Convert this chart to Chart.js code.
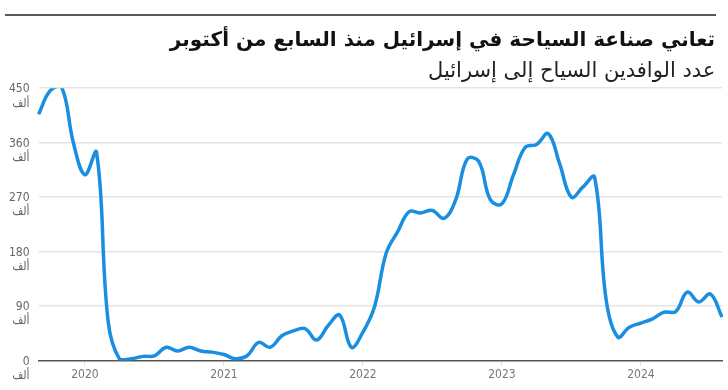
<!DOCTYPE html>
<html>
<head>
<meta charset="utf-8">
<script src="https://cdn.jsdelivr.net/npm/chart.js@4.4.1/dist/chart.umd.min.js"></script>
<style>
  html, body { margin: 0; padding: 0; background: #fff; }
  #wrap { width: 728px; height: 390px; }
</style>
</head>
<body>
<div id="wrap"><canvas id="tourismChart" width="728" height="390"></canvas></div>
<script>
// months from Sep 2019 to Aug 2024
const months = [
  '2019-09', '2019-10', '2019-11', '2019-12',
  '2020-01', '2020-02', '2020-03', '2020-04', '2020-05', '2020-06',
  '2020-07', '2020-08', '2020-09', '2020-10', '2020-11', '2020-12',
  '2021-01', '2021-02', '2021-03', '2021-04', '2021-05', '2021-06',
  '2021-07', '2021-08', '2021-09', '2021-10', '2021-11', '2021-12',
  '2022-01', '2022-02', '2022-03', '2022-04', '2022-05', '2022-06',
  '2022-07', '2022-08', '2022-09', '2022-10', '2022-11', '2022-12',
  '2023-01', '2023-02', '2023-03', '2023-04', '2023-05', '2023-06',
  '2023-07', '2023-08', '2023-09', '2023-10', '2023-11', '2023-12',
  '2024-01', '2024-02', '2024-03', '2024-04', '2024-05', '2024-06',
  '2024-07', '2024-08'
];

// tourist arrivals, thousands
const arrivals = [
  407, 446, 451, 360,
  307, 344, 65, 2, 3, 7, 8, 22, 16, 22, 16, 14,
  10, 3, 8, 30, 22, 41, 49, 53, 34, 58, 75, 22,
  47, 89, 177, 213, 246, 244, 248, 235, 265, 333, 329, 266,
  259, 307, 352, 357, 375, 324, 270, 287, 303, 100, 39, 55,
  62, 69, 80, 81, 113, 97, 110, 72
];

const yTicks = [0, 90, 180, 270, 360, 450];
const unitLabel = 'ألف';

// trailing space keeps the right edge a few px in from the plot edge
const titleText = 'تعاني صناعة السياحة في إسرائيل منذ السابع من أكتوبر ';
const subtitleText = 'عدد الوافدين السياح إلى إسرائيل ';

const topRule = {
  id: 'topRule',
  afterDraw(chart) {
    const c = chart.ctx;
    c.save();
    c.strokeStyle = '#222';
    c.lineWidth = 1.5;
    c.beginPath();
    c.moveTo(5, 15);
    c.lineTo(716, 15);
    c.stroke();
    c.restore();
  }
};

const ctx = document.getElementById('tourismChart').getContext('2d');

new Chart(ctx, {
  type: 'line',
  data: {
    labels: months,
    datasets: [{
      data: arrivals,
      borderColor: '#1a8ee0',
      borderWidth: 3.5,
      tension: 0.4,
      pointRadius: 0,
      fill: false
    }]
  },
  options: {
    responsive: false,
    animation: false,
    layout: { padding: { top: 16, right: 6, left: 0, bottom: 6 } },
    plugins: {
      legend: { display: false },
      tooltip: { enabled: false },
      title: {
        display: true,
        text: titleText,
        align: 'end',
        color: '#111',
        font: { family: 'DejaVu Sans', size: 20, weight: 'bold' },
        padding: { top: 13, bottom: 2 }
      },
      subtitle: {
        display: true,
        text: subtitleText,
        align: 'end',
        color: '#222',
        font: { family: 'DejaVu Sans', size: 21, weight: 'normal' },
        padding: { top: 4, bottom: 4 }
      }
    },
    scales: {
      x: {
        offset: false,
        border: { display: true, color: '#555', width: 1.5 },
        grid: {
          drawOnChartArea: false,
          drawTicks: true,
          tickLength: 5,
          color: (c) => (c.tick && months[c.tick.value] && months[c.tick.value].endsWith('-01')) ? '#ddd' : 'rgba(0,0,0,0)'
        },
        ticks: {
          autoSkip: false,
          maxRotation: 0,
          color: '#777',
          padding: 2,
          font: { family: 'DejaVu Sans Condensed, DejaVu Sans', size: 12 },
          callback: (v) => months[v].endsWith('-01') ? months[v].slice(0, 4) : null
        }
      },
      y: {
        min: 0,
        max: 450,
        border: { display: false },
        afterBuildTicks: (axis) => { axis.ticks = yTicks.map(v => ({ value: v })); },
        grid: {
          color: (c) => c.tick && c.tick.value === 0 ? 'rgba(0,0,0,0)' : '#e4e4e4',
          lineWidth: 1.5,
          drawTicks: false
        },
        ticks: {
          color: '#666',
          padding: 9,
          labelOffset: 8,
          font: { family: 'DejaVu Sans Condensed, DejaVu Sans', size: 12, lineHeight: 1.2 },
          callback: (v) => [String(v), unitLabel]
        }
      }
    }
  },
  plugins: [topRule]
});
</script>
</body>
</html>
